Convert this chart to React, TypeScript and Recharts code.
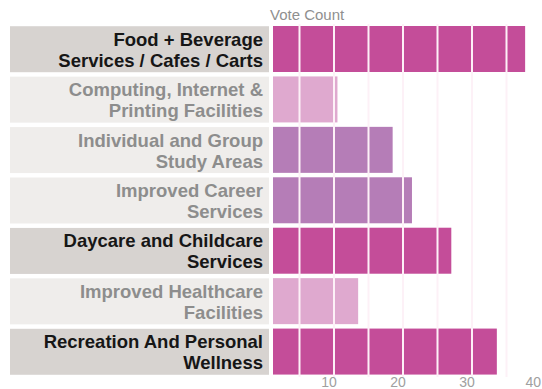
import { BarChart, Bar, XAxis, YAxis, ReferenceLine, Cell } from "recharts";

const categories = [
  "Food + Beverage\nServices / Cafes / Carts",
  "Computing, Internet &\nPrinting Facilities",
  "Individual and Group\nStudy Areas",
  "Improved Career\nServices",
  "Daycare and Childcare\nServices",
  "Improved Healthcare\nFacilities",
  "Recreation And Personal\nWellness",
];
const votes = [37.7, 10.5, 18.5, 21.3, 27, 13.5, 33.6];
const groups = ["high", "low", "mid", "mid", "high", "low", "high"];
const axisTicks = [10, 20, 30, 40];
const gridTicks = [5, 10, 15, 20, 25, 30, 35];

const data = categories.map((name, i) => ({ name, votes: votes[i], group: groups[i] }));

const barColors: Record<string, string> = {
  high: "#c44d99",
  mid: "#b57db7",
  low: "#dfa9cf",
};

const FONT = "'Liberation Sans', Arial, sans-serif";

function CategoryTick(props: any) {
  const { x, y, payload } = props;
  const row = data.find((d) => d.name === payload.value);
  const strong = row?.group === "high";
  const lines = String(payload.value).split("\n");
  return (
    <g>
      <rect x={10} y={y - 23} width={259} height={46} fill={strong ? "#d7d3d0" : "#efedeb"} />
      {lines.map((line, i) => (
        <text
          key={i}
          x={x - 2}
          y={y - 3.5 + i * 21}
          textAnchor="end"
          fontFamily={FONT}
          fontWeight="bold"
          fontSize={18.5}
          fill={strong ? "#161616" : "#8d8d8d"}
        >
          {line}
        </text>
      ))}
    </g>
  );
}

function ValueTick(props: any) {
  const { x, y, payload } = props;
  const last = payload.value === 40;
  return (
    <text
      x={last ? 541 : x - 5}
      y={y + 10}
      textAnchor={last ? "end" : "middle"}
      fontFamily={FONT}
      fontSize={14}
      fill="#a0a0a0"
    >
      {payload.value}
    </text>
  );
}

function InsetBar(props: any) {
  const { x, y, width, height, fill } = props;
  return <rect x={x + 8} y={y} width={Math.max(width - 8, 0)} height={height} fill={fill} />;
}

export default function App() {
  return (
    <div style={{ position: "relative", width: 542, height: 389 }}>
      <style>{`body{margin:0}`}</style>
      <div
        style={{
          position: "absolute",
          left: 270,
          top: 6,
          fontFamily: FONT,
          fontSize: 15,
          color: "#8f8f8f",
        }}
      >
        Vote Count
      </div>
      <BarChart
        width={542}
        height={389}
        layout="vertical"
        data={data}
        margin={{ top: 24, right: 1, bottom: 0, left: 0 }}
      >
        <XAxis
          type="number"
          domain={[0, 40]}
          ticks={axisTicks}
          axisLine={false}
          tickLine={false}
          tickSize={0}
          tickMargin={0}
          height={12}
          tick={<ValueTick />}
          interval={0}
        />
        <YAxis
          type="category"
          dataKey="name"
          width={265}
          axisLine={false}
          tickLine={false}
          tickSize={0}
          tickMargin={0}
          tick={<CategoryTick />}
          interval={0}
        />
        <Bar dataKey="votes" barSize={46} isAnimationActive={false} shape={<InsetBar />}>
          {data.map((d, i) => (
            <Cell key={i} fill={barColors[d.group]} />
          ))}
        </Bar>
        {gridTicks.map((t) => (
          <ReferenceLine key={t} x={t} stroke="#fdf1f7" strokeWidth={2} />
        ))}
      </BarChart>
    </div>
  );
}
